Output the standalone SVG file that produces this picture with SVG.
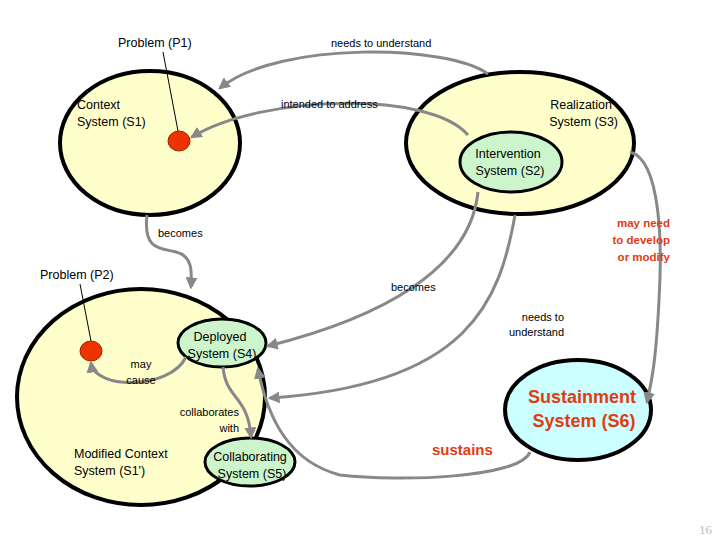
<svg xmlns="http://www.w3.org/2000/svg" width="720" height="540" viewBox="0 0 720 540">
<defs>
<marker id="ah" viewBox="0 0 10 10" refX="8" refY="5" markerWidth="4" markerHeight="4" orient="auto"><path d="M0,0 L10,5 L0,10 z" fill="#888"/></marker>
<style>
text{font-family:"Liberation Sans",Arial,sans-serif;font-size:12.5px;fill:#000}
.s{font-size:11px}
.r{font-weight:bold;fill:#e03c14;font-size:11.5px}
.big{font-size:18px;font-weight:bold;fill:#e03c14}
.y{fill:#ffffcc;stroke:#000;stroke-width:4}
.g{fill:#ccf5cc;stroke:#000;stroke-width:3}
.c{fill:none;stroke:#888;stroke-width:3;marker-end:url(#ah)}
.dot{fill:#ee3300;stroke:#a02000;stroke-width:1}
</style>
</defs>
<rect width="720" height="540" fill="#fff"/>
<g id="S1"><ellipse class="y" cx="150" cy="143" rx="90" ry="72"/><text x="77" y="109">Context</text><text x="77" y="126">System (S1)</text></g>
<g id="S3"><ellipse class="y" cx="520" cy="143" rx="114" ry="71"/><text x="612" y="109" text-anchor="end">Realization</text><text x="618" y="126" text-anchor="end">System (S3)</text></g>
<g id="S2"><ellipse class="g" cx="511" cy="162" rx="51" ry="30"/><text x="508" y="158" text-anchor="middle">Intervention</text><text x="510" y="175" text-anchor="middle">System (S2)</text></g>
<g id="S1p"><ellipse class="y" cx="141" cy="397" rx="124" ry="108"/><text x="74" y="458">Modified Context</text><text x="74" y="475">System (S1')</text></g>
<g id="S4"><ellipse class="g" cx="222" cy="343" rx="44" ry="24"/><text x="220" y="341" text-anchor="middle">Deployed</text><text x="222" y="358" text-anchor="middle">System (S4)</text></g>
<g id="S5"><ellipse class="g" cx="250" cy="462" rx="45" ry="24"/><text x="250" y="461" text-anchor="middle">Collaborating</text><text x="252" y="478" text-anchor="middle">System (S5)</text></g>
<g id="S6"><ellipse cx="578" cy="410" rx="73" ry="50" fill="#ccffff" stroke="#000" stroke-width="4"/><text class="big" x="582" y="403" text-anchor="middle">Sustainment</text><text class="big" x="584" y="427" text-anchor="middle">System (S6)</text></g>
<g id="P1"><line x1="163" y1="52" x2="178" y2="131" stroke="#000" stroke-width="1"/><ellipse class="dot" cx="179" cy="141" rx="11" ry="10"/><text x="118" y="47">Problem (P1)</text></g>
<g id="P2"><line x1="80" y1="284" x2="91" y2="341" stroke="#000" stroke-width="1"/><ellipse class="dot" cx="91" cy="351" rx="11" ry="10"/><text x="40" y="279">Problem (P2)</text></g>
<g id="connectors">
<path class="c" d="M488 74 C450 45,280 40,220 88"/>
<path class="c" d="M468 135 C430 90,260 95,192 137"/>
<path class="c" d="M147 215 C143 250,160 248,176 252 C192 256,192 270,191 287"/>
<path class="c" d="M478 192 C470 270,380 318,268 346"/>
<path class="c" d="M515 215 C500 300,470 385,270 398"/>
<path class="c" d="M630 152 C662 160,662 250,659 300 C656 360,652 380,647 402"/>
<path class="c" d="M186 357 C170 390,95 390,91 363"/>
<path class="c" d="M223 367 C226 400,248 395,251 437"/>
<path class="c" d="M530 452 C520 478,400 482,340 475 C290 462,268 420,258 369"/>
</g>
<g id="labels">
<text class="s" x="331" y="47">needs to understand</text>
<text class="s" x="281" y="108">intended to address</text>
<text class="s" x="158" y="237">becomes</text>
<text class="s" x="391" y="291">becomes</text>
<text class="s" x="564" y="321" text-anchor="end">needs to</text>
<text class="s" x="564" y="336" text-anchor="end">understand</text>
<text class="r" x="670" y="227" text-anchor="end">may need</text>
<text class="r" x="670" y="244" text-anchor="end">to develop</text>
<text class="r" x="670" y="261" text-anchor="end">or modify</text>
<text class="s" x="141" y="368" text-anchor="middle">may</text>
<text class="s" x="141" y="384" text-anchor="middle">cause</text>
<text class="s" x="239" y="416" text-anchor="end">collaborates</text>
<text class="s" x="239" y="432" text-anchor="end">with</text>
<text class="r" x="432" y="455" style="font-size:15px">sustains</text>
<text x="712" y="534" text-anchor="end" style="font-size:13px;fill:#bbb;font-family:'Liberation Serif',serif">16</text>
</g>
</svg>
